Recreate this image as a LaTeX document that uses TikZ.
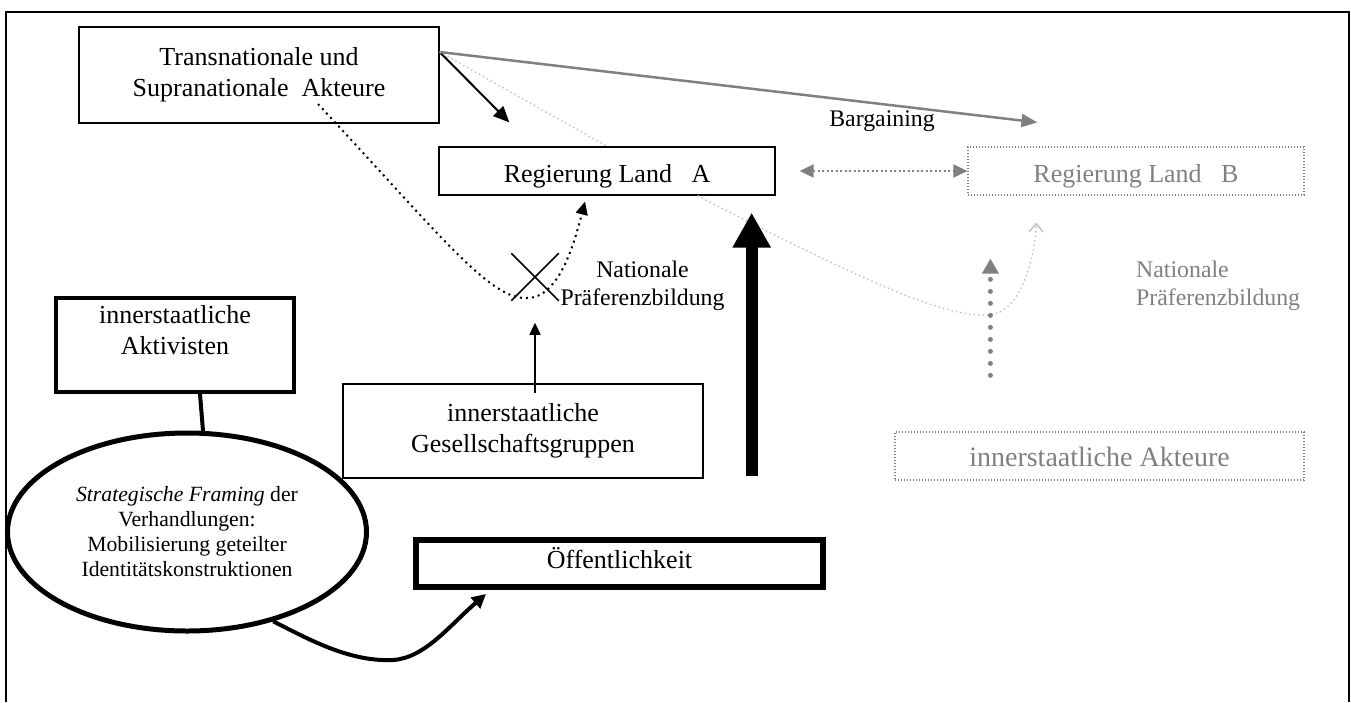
\documentclass[tikz,border=0pt]{standalone}
\usepackage{fontspec}
\setmainfont{Liberation Serif}
\usetikzlibrary{shapes.geometric, shapes.misc, arrows.meta, positioning}
\definecolor{midgrey}{HTML}{808080}
\definecolor{lightgrey}{HTML}{C4C4C4}

\begin{document}
\begin{tikzpicture}[x=1pt, y=-1pt, align=center, font=\fontsize{26}{31}\selectfont,
  box/.style={draw, line width=1.3pt, inner sep=0pt},
  greybox/.style={draw=midgrey, line width=1.2pt, dash pattern=on 1.2pt off 1.8pt, text=midgrey, inner sep=0pt},
  smalltext/.style={font=\fontsize{23.8}{27.4}\selectfont, inner sep=0pt},
  oneline/.style={text height=22pt, text depth=0pt}]

\useasboundingbox (0,0) rectangle (1351,702);
\draw[line width=1.3pt] (6,702) -- (6,12) -- (1349,12) -- (1349,702);

\node (trans) [box, minimum width=360pt, minimum height=96pt] at (259,75) {Transnationale und\\Supranationale~~Akteure};
\node (regA) [box, oneline, minimum width=336pt, minimum height=48pt] at (607,171) {Regierung Land~~~A};
\node (regB) [greybox, oneline, minimum width=336pt, minimum height=48pt] at (1136,171) {Regierung Land~~~B};
\node (aktiv) [box, line width=4pt, minimum width=238pt, minimum height=94pt] at (175,345) {innerstaatliche\\Aktivisten\\\mbox{}};
\node (gesell) [box, minimum width=360pt, minimum height=94pt] at (523,431) {innerstaatliche\\Gesellschaftsgruppen};
\node (oeff) [box, line width=6pt, text height=18pt, text depth=9pt, minimum width=407pt, minimum height=47pt] at (619.5,563.5) {Öffentlichkeit};
\node (akteure) [greybox, text height=21pt, text depth=0pt, minimum width=409pt, minimum height=48pt, font=\fontsize{28}{32}\selectfont] at (1099.5,456) {innerstaatliche Akteure};
\node (framing) [ellipse, draw, line width=5pt, minimum width=359pt, minimum height=198pt, font=\fontsize{21.7}{25}\selectfont] at (187,532) {\textit{Strategische Framing} der\\Verhandlungen:\\Mobilisierung geteilter\\Identitätskonstruktionen};
\node (veto) [cross out, draw, line width=1.5pt, minimum size=46pt, inner sep=0pt] at (535,277) {};
\node (natA) [smalltext] at (642.5,286) {Nationale\\Präferenzbildung};
\node (natB) [smalltext, text=midgrey, anchor=west, align=left] at (1136,286) {Nationale\\Präferenzbildung};
\node (barg) [smalltext] at (882,121.5) {Bargaining};

\coordinate (tcorner) at ([yshift=23pt]trans.east);

% ausgehend von den transnationalen Akteuren
\draw[-{Triangle[length=16pt,width=14pt]}, line width=2pt] (tcorner) -- ([xshift=71pt,yshift=24pt]regA.north west);
\draw[-{Triangle[length=16pt,width=13pt]}, midgrey, line width=2.5pt] (tcorner) -- ([xshift=70pt,yshift=24pt]regB.north west);
\draw[lightgrey, line width=1.5pt, dash pattern=on 1.5pt off 3pt] (tcorner) -- (regA.north);
\draw[-{Triangle[length=13pt,width=12pt]}, line width=2pt, dash pattern=on 2pt off 4pt] ([xshift=59pt,yshift=-29pt]trans.center) .. controls (440,235) and (490,300) .. (527,298) .. controls (560,298) and (575,240) .. ([xshift=-22pt,yshift=-6pt]regA.south);

% zwischen den Regierungen
\draw[{Triangle[length=14pt,width=13pt]}-{Triangle[length=14pt,width=13pt]}, midgrey, line width=2pt, dash pattern=on 2pt off 2.5pt] ([xshift=24pt]regA.east) -- (regB.west);
\draw[-{Straight Barb[length=8pt,width=14pt]}, lightgrey, line width=1.5pt, dash pattern=on 1.5pt off 3pt] ([xshift=-78pt]regA.south east) .. controls (880,290) and (950,318) .. (990,315) .. controls (1020,312) and (1035,260) .. ([xshift=69pt,yshift=-27pt]regB.south west);

% innerstaatliche Ebene
\draw[-{Triangle[length=12pt,width=11pt]}, line width=1.5pt] ([xshift=12pt,yshift=-10pt]gesell.north) -- ([yshift=-22pt]veto.south);
\draw[-{Triangle[length=35pt,width=36pt]}, line width=12pt] ([xshift=48pt,yshift=3pt]gesell.south east) -- ([xshift=-24pt,yshift=-17pt]regA.south east);
\draw[-{Triangle[length=15pt,width=16pt]}, midgrey, line width=5pt, line cap=round, dash pattern=on 0pt off 12pt] ([xshift=96pt,yshift=56pt]akteure.north west) -- ([xshift=23pt,yshift=-63pt]regB.south west);

% Aktivisten und Framing
\draw[line width=4pt] ([xshift=25pt]aktiv.south) -- (framing.81);
\draw[-{Triangle[length=14pt,width=14pt]}, line width=4pt] (framing.-46) .. controls (310,640) and (350,662) .. (393,660) .. controls (425,658) and (450,625) .. ([xshift=73pt,yshift=-4pt]oeff.south west);
\end{tikzpicture}
\end{document}
